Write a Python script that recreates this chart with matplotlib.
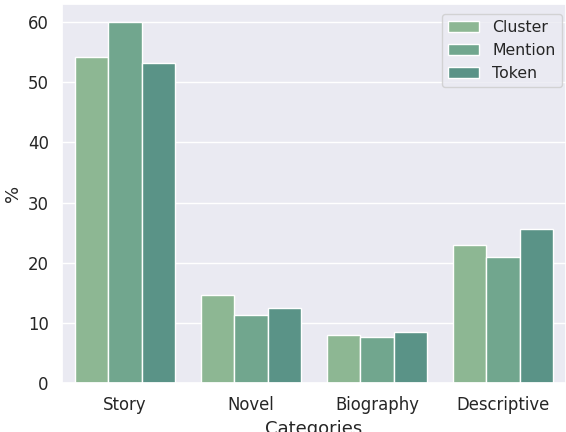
import numpy as np
import pandas as pd
import seaborn as sns
import matplotlib.pyplot as plt

categories = ['Story', 'Novel', 'Biography', 'Descriptive']
series = ['Cluster', 'Mention', 'Token']
cluster = [54.2, 14.6, 8.0, 23.0]
mention = [60.0, 11.3, 7.6, 21.0]
token = [53.2, 12.5, 8.4, 25.6]
colors = ['#8db793', '#71a68e', '#5a9387']

sns.set_theme(style='darkgrid', font_scale=1.08)
plt.rcParams['font.family'] = ['DejaVu Sans']

df = pd.DataFrame({
    'Categories': categories * 3,
    'value': cluster + mention + token,
    'Type': [s for s in series for _ in categories],
})

fig = plt.figure(figsize=(5.66, 4.32), dpi=100)
ax = fig.add_axes([0.1095, 0.1134, 0.8905, 0.8773])
sns.barplot(data=df, x='Categories', y='value', hue='Type', palette=colors,
            saturation=1, edgecolor='white', linewidth=1, ax=ax)
ax.set_ylabel('%')
ax.set_xlabel('Categories')
ax.set_ylim(0, 63)
ax.set_yticks([0, 10, 20, 30, 40, 50, 60])
ax.legend(loc='upper right', title=None, fontsize=11.3,
          bbox_to_anchor=(1.007, 0.994))
fig.savefig('out.png', dpi=100)
